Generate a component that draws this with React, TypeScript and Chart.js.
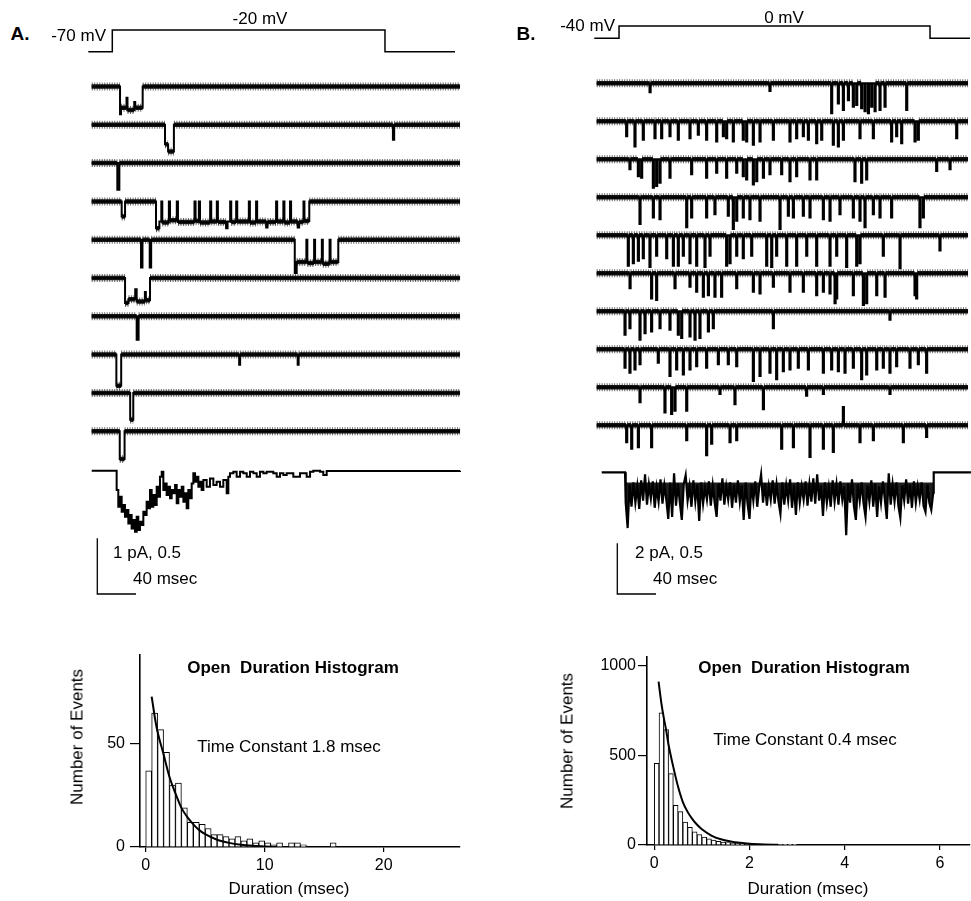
import React, { useEffect, useRef } from "react";
import { Chart, registerables } from "chart.js";

Chart.register(...registerables);

type Seg = [number, number, number]; // [open ms, close ms, amplitude pA]
type Spike = [number, number]; // [time ms, amplitude pA]

const FONT = "'Liberation Sans', Arial, Helvetica, sans-serif";

// ================= Panel A (-70 mV -> -20 mV) =================
const A_V_HOLD = -70;
const A_V_TEST = -20;
const A_PROTOCOL_MS = [-3.5, 21.3, 303.3, 375.7]; // start, pulse on, pulse off, end
const A_SWEEP_MS = 380.9;
const A_SCALE_PA = 1;
const A_SCALE_MS = 40;

const A_SWEEP_1: Seg[] = [[29.3, 30.3, 0.5], [30.3, 36, 0.38], [36, 37, 0.2], [37, 44, 0.42], [44, 45, 0.28], [45, 52.7, 0.38]];
const A_SWEEP_2: Seg[] = [[75.8, 79, 0.35], [79, 85, 0.48], [311.5, 312.8, 0.27]];
const A_SWEEP_3: Seg[] = [[26.5, 28.6, 0.48]];
const A_SWEEP_4: Seg[] = [
  [31, 34.5, 0.27], [66.5, 70, 0.48], [70, 72, 0.36], [73, 79.8, 0.38], [81, 88, 0.34], [89.2, 106.3, 0.37],
  [107.4, 110.8, 0.35], [112, 122.5, 0.38], [123.6, 129.4, 0.36], [130.5, 139, 0.37], [139, 140.5, 0.48],
  [140.5, 143.2, 0.36], [144.3, 149.4, 0.37], [150.5, 162.5, 0.36], [163.6, 170, 0.38], [171.1, 180.4, 0.36],
  [180.4, 181.8, 0.47], [181.8, 190.7, 0.37], [191.8, 198.2, 0.36], [199.3, 205.1, 0.38], [206.2, 213, 0.36],
  [213, 214.5, 0.47], [214.5, 219, 0.37], [220, 225, 0.35],
];
const A_SWEEP_5: Seg[] = [[51, 52.5, 0.5], [60, 61.5, 0.5], [210, 212, 0.6], [212, 222, 0.4], [223, 230, 0.42], [231, 238, 0.4], [239, 246, 0.43], [247, 255, 0.4]];
const A_SWEEP_6: Seg[] = [[34.5, 38, 0.45], [38, 45, 0.38], [45, 46.5, 0.2], [46.5, 55, 0.42], [55, 56, 0.25], [56, 60.3, 0.4]];
const A_SWEEP_7: Seg[] = [[46.5, 48.5, 0.42]];
const A_SWEEP_8: Seg[] = [[25.5, 30.5, 0.56], [152.5, 153.5, 0.18], [213, 214, 0.18]];
const A_SWEEP_9: Seg[] = [[39.8, 43, 0.48]];
const A_SWEEP_10: Seg[] = [[29, 34, 0.5]];
const A_SWEEPS = [A_SWEEP_1, A_SWEEP_2, A_SWEEP_3, A_SWEEP_4, A_SWEEP_5, A_SWEEP_6, A_SWEEP_7, A_SWEEP_8, A_SWEEP_9, A_SWEEP_10];

// ensemble average (open probability)
const A_ENSEMBLE_MS = [
  0, 24.1, 25.8, 27.5, 29.3, 31.0, 32.7, 34.4, 36.2, 37.9, 39.6, 41.3, 43.1, 44.8, 46.5, 48.2, 49.9, 51.7, 53.4, 55.1,
  56.8, 58.6, 60.3, 62.0, 63.7, 65.5, 67.2, 68.9, 70.6, 72.4, 74.1, 75.8, 77.5, 79.3, 81.0, 82.7, 84.4, 86.2, 87.9, 89.6,
  91.3, 93.1, 94.8, 96.5, 98.2, 99.9, 101.7, 103.4, 105.1, 106.8, 108.6, 110.3, 112.0, 113.7, 115.5, 118.9, 122.3, 125.8, 129.2, 132.7,
  136.1, 139.6, 141.3, 143.0, 146.5, 149.9, 153.4, 156.8, 160.3, 163.7, 167.2, 170.6, 174.0, 177.5, 180.9, 187.8, 191.3, 194.7, 198.2, 201.6,
  208.5, 215.4, 222.3, 225.8, 229.2, 236.1, 239.5, 243.0, 380.9,
];
const A_ENSEMBLE_PO = [
  0, 0, 0.174, 0.323, 0.233, 0.368, 0.308, 0.413, 0.353, 0.473, 0.398, 0.518, 0.443, 0.548, 0.413, 0.533, 0.458, 0.488, 0.368, 0.398,
  0.278, 0.338, 0.174, 0.323, 0.218, 0.308, 0.144, 0.233, 0.054, 0.009, 0.174, 0.114, 0.218, 0.144, 0.248, 0.174, 0.203, 0.129, 0.293, 0.174,
  0.233, 0.144, 0.278, 0.203, 0.338, 0.174, 0.248, 0.114, 0.024, 0.099, 0.054, 0.144, 0.099, 0.174, 0.084, 0.144, 0.069, 0.129, 0.099, 0.144,
  0.084, 0.203, 0.054, 0.024, 0.009, 0.054, 0.009, 0.024, 0.054, 0.009, 0.024, 0.054, 0.009, 0.024, 0.009, 0.024, 0.054, 0.024, 0.039, 0.024,
  0.054, 0.024, 0.054, 0.009, 0, 0.009, 0.039, 0.003, 0,
];

// ================= Panel B (-40 mV -> 0 mV) =================
const B_V_HOLD = -40;
const B_V_TEST = 0;
const B_PROTOCOL_MS = [-2.5, 23.1, 344.7, 386];
const B_SWEEP_MS = 384;
const B_OPENING_MS = 1.0;
const B_SCALE_PA = 2;
const B_SCALE_MS = 40;

const B_SWEEP_1: Spike[] = [[55.2, 0.35], [179.2, 0.3], [243.0, 1.18], [249.9, 0.79], [255.1, 1.05], [260.3, 0.66], [265.4, 0.92], [268.9, 0.85], [274.0, 0.98], [277.5, 1.1], [281.0, 1.18], [284.4, 0.92], [287.9, 1.1], [293.0, 1.05], [298.2, 0.92], [320.6, 1.05]];
const B_SWEEP_2: Spike[] = [[31.0, 0.59], [39.6, 0.99], [48.2, 0.72], [60.3, 0.66], [67.2, 0.66], [75.8, 0.59], [84.4, 0.72], [96.5, 0.66], [105.1, 0.53], [113.7, 0.72], [124.1, 0.79], [131.0, 0.59], [134.4, 0.66], [141.3, 0.79], [151.6, 0.72], [155.1, 0.79], [162.0, 0.92], [168.9, 0.79], [182.7, 0.72], [199.9, 0.79], [206.8, 0.66], [213.7, 0.59], [218.9, 0.72], [227.5, 0.86], [232.7, 0.72], [244.7, 0.92], [249.9, 0.99], [255.1, 0.72], [272.3, 0.66], [286.1, 0.66], [305.0, 0.79], [310.2, 0.59], [315.4, 0.86], [329.2, 0.79], [332.6, 0.72], [372.3, 0.66]];
const B_SWEEP_3: Spike[] = [[34.4, 0.39], [43.1, 0.66], [46.5, 0.72], [58.6, 1.12], [62.0, 1.05], [65.5, 0.92], [75.8, 0.72], [98.2, 0.59], [113.7, 0.72], [124.1, 0.53], [134.4, 0.72], [144.8, 0.53], [151.6, 0.66], [155.1, 0.79], [162.0, 0.99], [165.5, 0.86], [172.4, 0.72], [179.2, 0.59], [191.3, 0.59], [199.9, 0.86], [206.8, 0.66], [220.6, 0.79], [227.5, 0.79], [267.1, 0.86], [274.0, 0.92], [279.2, 0.79], [351.6, 0.46], [365.4, 0.39]];
const B_SWEEP_4: Spike[] = [[44.8, 1.05], [58.6, 0.79], [65.5, 0.86], [93.1, 1.18], [98.2, 0.79], [113.7, 0.79], [122.3, 0.66], [136.1, 0.72], [141.3, 1.25], [144.8, 0.92], [151.6, 0.79], [158.5, 0.86], [168.9, 0.92], [189.6, 1.25], [198.2, 0.72], [203.4, 0.79], [213.7, 0.72], [220.6, 0.79], [234.4, 0.86], [241.3, 0.92], [251.6, 0.66], [265.4, 0.79], [272.3, 0.92], [277.5, 1.18], [286.1, 0.66], [293.0, 0.79], [305.0, 0.79], [334.3, 1.18], [337.8, 0.79]];
const B_SWEEP_5: Spike[] = [[32.7, 1.2], [37.9, 1.1], [43.1, 1.0], [48.2, 0.9], [55.1, 1.25], [62.0, 0.8], [72.4, 0.9], [79.3, 1.2], [84.4, 1.2], [89.6, 0.8], [96.5, 1.1], [103.4, 1.2], [112.0, 1.25], [117.2, 0.8], [134.4, 1.2], [137.9, 1.1], [144.8, 0.8], [151.6, 0.9], [160.3, 0.8], [175.8, 1.2], [181.0, 1.25], [186.1, 0.8], [196.5, 1.2], [206.8, 1.2], [217.2, 0.8], [227.5, 1.2], [241.3, 1.2], [248.2, 0.8], [258.5, 1.25], [268.9, 1.2], [272.3, 1.1], [296.4, 0.8], [313.7, 1.3], [355.0, 0.6]];
const B_SWEEP_6: Spike[] = [[34.5, 0.59], [56.8, 0.99], [62.0, 1.05], [81.0, 0.59], [96.5, 0.53], [103.4, 0.72], [110.3, 0.92], [115.5, 0.86], [122.3, 0.92], [129.2, 0.92], [144.8, 0.59], [162.0, 0.72], [168.9, 0.79], [182.7, 0.53], [199.9, 0.72], [213.7, 0.72], [227.5, 0.86], [234.4, 0.72], [241.3, 0.79], [246.5, 1.18], [248.2, 0.99], [265.4, 0.86], [275.8, 1.25], [279.2, 1.18], [289.6, 0.86], [298.2, 0.92], [329.2, 0.86], [330.9, 0.99]];
const B_SWEEP_7: Spike[] = [[29.3, 0.92], [34.4, 0.66], [44.8, 1.12], [50.0, 0.86], [56.8, 0.79], [65.5, 0.66], [75.8, 0.72], [84.4, 0.92], [87.9, 1.05], [96.5, 0.99], [101.7, 1.12], [106.8, 1.05], [115.5, 0.79], [120.6, 0.66], [182.7, 0.66], [303.3, 0.33]];
const B_SWEEP_8: Spike[] = [[29.3, 0.72], [34.4, 0.92], [39.6, 0.79], [44.8, 0.59], [63.7, 0.53], [75.8, 1.05], [82.7, 0.79], [89.6, 0.99], [96.5, 0.79], [103.4, 0.66], [113.7, 0.72], [125.8, 0.59], [136.1, 0.59], [144.8, 0.66], [162.0, 1.25], [168.9, 1.05], [179.2, 0.92], [186.1, 1.18], [193.0, 0.86], [199.9, 0.79], [208.5, 0.72], [218.9, 0.79], [234.4, 0.92], [243.0, 0.79], [249.9, 0.86], [256.8, 0.92], [265.4, 0.72], [274.0, 1.18], [279.2, 0.99], [289.6, 0.79], [296.4, 0.72], [303.3, 0.92], [310.2, 0.66], [324.0, 0.72], [332.6, 0.59], [341.2, 0.92]];
const B_SWEEP_9: Spike[] = [[44.8, 0.59], [70.6, 0.99], [77.5, 1.05], [81.0, 0.92], [93.1, 0.92], [127.5, 0.26], [143.0, 0.66], [172.4, 0.86], [217.1, 0.33], [234.4, 0.26], [303.3, 0.26]];
const B_SWEEP_10: Spike[] = [[31.0, 0.66], [36.2, 0.92], [43.1, 0.86], [56.8, 0.86], [93.1, 0.59], [113.7, 1.18], [118.9, 0.72], [137.9, 0.66], [144.8, 0.59], [191.3, 0.92], [203.4, 0.86], [220.6, 1.25], [234.4, 0.92], [244.7, 1.05], [255.1, -0.72], [272.3, 0.66], [286.1, 0.59], [317.1, 0.66], [341.2, 0.46]];
const B_SWEEPS = [B_SWEEP_1, B_SWEEP_2, B_SWEEP_3, B_SWEEP_4, B_SWEEP_5, B_SWEEP_6, B_SWEEP_7, B_SWEEP_8, B_SWEEP_9, B_SWEEP_10];

// ensemble average, sampled every 2 ms from 30 ms
const B_ENSEMBLE_START_MS = 5.2;
const B_ENSEMBLE_ON_MS = 29.3;
const B_ENSEMBLE_OFF_MS = 348.5;
const B_ENSEMBLE_END_MS = 387;
const B_ENSEMBLE_T0_MS = 30;
const B_ENSEMBLE_DT_MS = 2;
const B_ENSEMBLE_CORE_PO = 0.1; // upper edge of the dense part of the averaged band
const B_ENSEMBLE_PO = [
  0.30, 0.55, 0.12, 0.34, 0.10, 0.30, 0.14, 0.36, 0.08, 0.28,
  0.02, 0.32, 0.12, 0.26, 0.09, 0.35, 0.15, 0.29, 0.07, 0.31,
  0.13, 0.27, 0.46, 0.10, 0.44, 0.01, 0.33, 0.11, 0.30, 0.47,
  0.12, 0.03, 0.28, 0.14, 0.34, 0.08, 0.29, 0.12, 0.48, 0.10,
  0.31, 0.15, 0.27, 0.09, 0.33, 0.13, 0.30, 0.44, 0.11, 0.28,
  0.06, 0.32, 0.14, 0.27, 0.10, 0.35, 0.12, 0.30, 0.08, 0.29,
  0.13, 0.47, 0.10, 0.31, 0.46, 0.12, 0.28, 0.09, 0.34, 0.15,
  0.02, 0.30, 0.11, 0.33, 0.14, 0.27, 0.08, 0.31, 0.12, 0.29,
  0.41, 0.10, 0.32, 0.13, 0.28, 0.07, 0.35, 0.12, 0.42, 0.10,
  0.30, 0.14, 0.27, 0.09, 0.33, 0.12, 0.29, 0.06, 0.31, 0.02,
  0.28, 0.13, 0.43, 0.10, 0.30, 0.15, 0.34, 0.08, 0.29, 0.12,
  0.32, 0.09, 0.27, 0.14, 0.62, 0.11, 0.30, 0.07, 0.33, 0.47,
  0.12, 0.28, 0.10, 0.31, 0.44, 0.13, 0.29, 0.08, 0.34, 0.11,
  0.44, 0.14, 0.30, 0.09, 0.27, 0.46, 0.01, 0.32, 0.12, 0.29,
  0.10, 0.33, 0.45, 0.13, 0.28, 0.07, 0.31, 0.12, 0.35, 0.09,
  0.30, 0.14, 0.27, 0.10, 0.33, 0.39, 0.12, 0.30, 0.37, 0.20,
];

// ================= Histograms =================
const HIST_A_BIN_MS = 0.5;
const HIST_A_COUNTS = [37, 65, 57, 46, 30, 31, 19, 12, 12, 11, 9, 6, 6, 5, 4, 5, 3, 4, 2, 3, 2, 1, 2, 0, 2, 2, 1, 0, 0, 0, 0, 2];
const FIT_A_MS = [0.5, 0.9, 1.5, 2, 2.5, 3, 3.5, 4, 4.5, 5, 6, 7, 8, 9, 10, 11];
const FIT_A_N = [73, 58.5, 45, 34, 26, 19, 14.5, 11, 8.2, 6.2, 3.5, 2, 1.1, 0.6, 0.3, 0.1];
const HIST_A_X_TICKS = [0, 10, 20];
const HIST_A_Y_TICKS = [0, 50];

const HIST_B_BIN_MS = 0.1;
const HIST_B_COUNTS = [456, 738, 644, 399, 222, 186, 128, 98, 74, 58, 44, 35, 27, 21, 16, 14, 11, 9, 7, 6, 5, 4, 3, 3, 2, 2, 2, 1, 1, 1];
const FIT_B_MS = [0.09, 0.15, 0.2, 0.25, 0.3, 0.4, 0.5, 0.6, 0.7, 0.8, 0.9, 1.0, 1.2, 1.4, 1.6, 1.8, 2.0, 2.3, 2.6];
const FIT_B_N = [912, 790, 710, 640, 560, 435, 325, 240, 185, 145, 113, 88, 53, 32, 20, 12, 7, 3, 1];
const HIST_B_X_TICKS = [0, 2, 4, 6];
const HIST_B_Y_TICKS = [0, 500, 1000];

// ================= helpers =================
type Pt = { x: number; y: number | null };

function sweepPoints(segs: Seg[], T: number, base: number): Pt[] {
  const pts: Pt[] = [{ x: 0, y: base }];
  let prevEnd = -Infinity;
  const sorted = [...segs].sort((a, b) => a[0] - b[0]);
  for (const [t0, t1, a] of sorted) {
    if (t0 > prevEnd + 1e-6) pts.push({ x: t0, y: base });
    else pts.pop();
    pts.push({ x: t0, y: base + a }, { x: t1, y: base + a }, { x: t1, y: base });
    prevEnd = t1;
  }
  pts.push({ x: T, y: base });
  return pts;
}

// stretches (closed or open) long enough to show the recording-noise band
function bandPoints(segs: Seg[], T: number, base: number): Pt[] {
  const pieces: Seg[] = [];
  let t = 0;
  const sorted = [...segs].sort((a, b) => a[0] - b[0]);
  for (const [t0, t1, a] of sorted) {
    if (t0 - t > 3) pieces.push([t, t0, 0]);
    if (t1 - t0 > 3) pieces.push([t0, t1, a]);
    t = t1;
  }
  if (T - t > 3) pieces.push([t, T, 0]);
  const pts: Pt[] = [];
  for (const [p0, p1, a] of pieces) pts.push({ x: p0, y: base + a }, { x: p1, y: base + a }, { x: p1, y: null });
  return pts;
}

function spikesToSegs(sp: Spike[], w: number): Seg[] {
  return sp.map(([t, a]) => [t - w / 2, t + w / 2, a] as Seg);
}

interface PanelCfg {
  left: number; width: number; height: number;
  x0Px: number; pxPerMs: number; pxPerPA: number; pxPerPo: number;
  sweepY0: number; sweepDy: number; ensPx: number;
  vHold: number; vTest: number; vHoldPx: number; pxPerMv: number; protocol: number[];
  sweeps: Seg[][]; sweepMs: number; coreWidth: number;
  ensemble: Pt[]; ensWidth: number; ensStepped: boolean;
  ensActive: Pt[] | null; ensCorePo: number;
  sbXPx: number; sbTopPx: number; sbPA: number; sbMs: number;
}

const lineBase = { pointRadius: 0, tension: 0, fill: false, spanGaps: false, borderCapStyle: "butt" as const };

function TracePanel({ c }: { c: PanelCfg }) {
  const ref = useRef<HTMLCanvasElement>(null);
  useEffect(() => {
    if (!ref.current) return;
    const H = c.height;
    const datasets: any[] = [];
    c.sweeps.forEach((segs, i) => {
      const base = (c.sweepY0 + i * c.sweepDy) / c.pxPerPA;
      const band = bandPoints(segs, c.sweepMs, base);
      datasets.push({ ...lineBase, data: band, borderColor: "rgba(0,0,0,0.6)", borderWidth: 8, borderDash: [1, 1.5], order: 4, yAxisID: "y" });
      datasets.push({ ...lineBase, data: band, borderColor: "#151515", borderWidth: 4.5, order: 3, yAxisID: "y" });
      datasets.push({ ...lineBase, data: sweepPoints(segs, c.sweepMs, base), borderColor: "#000", borderWidth: c.coreWidth, order: 2, yAxisID: "y" });
    });
    if (c.ensActive) {
      datasets.push({
        ...lineBase, data: c.ensActive, borderWidth: 0, borderColor: "rgba(0,0,0,0)", order: 2, yAxisID: "yPo",
        fill: { value: c.ensCorePo }, backgroundColor: "rgba(0,0,0,0.88)",
      });
    }
    datasets.push({ ...lineBase, data: c.ensemble, borderColor: "#000", borderWidth: c.ensWidth, stepped: c.ensStepped, order: 1, yAxisID: "yPo" });
    const [p0, pOn, pOff, pEnd] = c.protocol;
    datasets.push({
      ...lineBase, yAxisID: "yV", borderColor: "#000", borderWidth: 1.5, order: 1,
      data: [
        { x: p0, y: c.vHold }, { x: pOn, y: c.vHold }, { x: pOn, y: c.vTest },
        { x: pOff, y: c.vTest }, { x: pOff, y: c.vHold }, { x: pEnd, y: c.vHold },
      ],
    });
    const sbT = (c.sbXPx - c.x0Px) / c.pxPerMs;
    const sbTop = c.sbTopPx / c.pxPerPA;
    datasets.push({
      ...lineBase, yAxisID: "y", borderColor: "#000", borderWidth: 1.3, order: 1,
      data: [{ x: sbT, y: sbTop }, { x: sbT, y: sbTop + c.sbPA }, { x: sbT + c.sbMs, y: sbTop + c.sbPA }],
    });
    const chart = new Chart(ref.current, {
      type: "line",
      data: { datasets },
      options: {
        animation: false, responsive: false, events: [],
        layout: { padding: 0 },
        plugins: { legend: { display: false }, tooltip: { enabled: false } },
        scales: {
          x: { type: "linear", display: false, min: (c.left - c.x0Px) / c.pxPerMs, max: (c.left + c.width - c.x0Px) / c.pxPerMs },
          y: { type: "linear", display: false, reverse: true, min: 0, max: H / c.pxPerPA },
          yPo: { type: "linear", display: false, reverse: true, min: -c.ensPx / c.pxPerPo, max: (H - c.ensPx) / c.pxPerPo },
          yV: { type: "linear", display: false, min: c.vHold - (H - c.vHoldPx) / c.pxPerMv, max: c.vHold + c.vHoldPx / c.pxPerMv },
        },
      },
    });
    return () => chart.destroy();
  }, [c]);
  return <canvas ref={ref} width={c.width} height={c.height} style={{ position: "absolute", left: c.left, top: 0, width: c.width, height: c.height }} />;
}

interface HistCfg {
  left: number; top: number; width: number; height: number;
  yAxisW: number; xAxisH: number; padTop: number; padRight: number;
  counts: number[]; bin: number; fitT: number[]; fitN: number[];
  xMin: number; xMax: number; yMax: number; xTicks: number[]; yTicks: number[];
  yTickLen: number; yTickPad: number; xTickLen: number; xTickPad: number;
}

function Histogram({ h }: { h: HistCfg }) {
  const ref = useRef<HTMLCanvasElement>(null);
  useEffect(() => {
    if (!ref.current) return;
    const tickFont = { family: FONT, size: 16 };
    const chart = new Chart(ref.current, {
      type: "bar",
      data: {
        datasets: [
          {
            type: "line", data: h.fitT.map((t, i) => ({ x: t, y: h.fitN[i] })),
            borderColor: "#000", borderWidth: 2, pointRadius: 0, cubicInterpolationMode: "monotone", fill: false, order: 0,
          } as any,
          {
            type: "bar", data: h.counts.map((v, i) => ({ x: (i + 0.5) * h.bin, y: v })),
            backgroundColor: "#fff", borderColor: "#000", borderWidth: 1, barPercentage: 1, categoryPercentage: 1, order: 1,
          } as any,
        ],
      },
      options: {
        animation: false, responsive: false, events: [],
        layout: { padding: { left: 0, top: h.padTop, right: h.padRight, bottom: 0 } },
        plugins: { legend: { display: false }, tooltip: { enabled: false } },
        scales: {
          x: {
            type: "linear", min: h.xMin, max: h.xMax, offset: false,
            grid: { drawOnChartArea: false, drawTicks: true, tickLength: h.xTickLen, color: "#000", lineWidth: 1.2, offset: false },
            border: { display: true, color: "#000", width: 1.6 },
            ticks: { color: "#000", font: tickFont, padding: h.xTickPad, maxRotation: 0, autoSkip: false, callback: (v: any) => String(v) },
            afterBuildTicks: (s: any) => { s.ticks = h.xTicks.map((v) => ({ value: v })); },
            afterFit: (s: any) => { s.height = h.xAxisH; },
          },
          y: {
            type: "linear", min: 0, max: h.yMax,
            grid: { drawOnChartArea: false, drawTicks: true, tickLength: h.yTickLen, color: "#000", lineWidth: 1.2 },
            border: { display: true, color: "#000", width: 1.6 },
            ticks: { color: "#000", font: tickFont, padding: h.yTickPad, autoSkip: false, callback: (v: any) => String(v) },
            afterBuildTicks: (s: any) => { s.ticks = h.yTicks.map((v) => ({ value: v })); },
            afterFit: (s: any) => { s.width = h.yAxisW; },
          },
        },
      },
    });
    return () => chart.destroy();
  }, [h]);
  return <canvas ref={ref} width={h.width} height={h.height} style={{ position: "absolute", left: h.left, top: h.top, width: h.width, height: h.height }} />;
}

function Label({ x, y, text, anchor = "middle", bold = false, size = 17, rotate = 0 }: {
  x: number; y: number; text: string; anchor?: "start" | "middle" | "end"; bold?: boolean; size?: number; rotate?: number;
}) {
  const tx = anchor === "start" ? "0%" : anchor === "end" ? "-100%" : "-50%";
  return (
    <div style={{
      position: "absolute", left: x, top: y, transform: `translate(${tx},-50%) rotate(${rotate}deg)`,
      fontFamily: FONT, fontSize: size, fontWeight: bold ? 700 : 400, lineHeight: 1, whiteSpace: "pre", color: "#000",
    }}>{text}</div>
  );
}

// ================= layout =================
const PANEL_A: PanelCfg = {
  left: 80, width: 400, height: 610,
  x0Px: 91.7, pxPerMs: 0.967, pxPerPA: 55.7, pxPerPo: 111.4,
  sweepY0: 86.5, sweepDy: 38.3, ensPx: 470.7,
  vHold: A_V_HOLD, vTest: A_V_TEST, vHoldPx: 51.7, pxPerMv: 0.434, protocol: A_PROTOCOL_MS,
  sweeps: A_SWEEPS, sweepMs: A_SWEEP_MS, coreWidth: 2,
  ensemble: A_ENSEMBLE_MS.map((t, i) => ({ x: t, y: A_ENSEMBLE_PO[i] })), ensWidth: 2, ensStepped: true,
  ensActive: null, ensCorePo: 0,
  sbXPx: 97.3, sbTopPx: 538.3, sbPA: A_SCALE_PA, sbMs: A_SCALE_MS,
};

const B_ENSEMBLE_ACTIVE: Pt[] = B_ENSEMBLE_PO.map((v, i) => ({ x: B_ENSEMBLE_T0_MS + i * B_ENSEMBLE_DT_MS, y: v }));

const PANEL_B: PanelCfg = {
  left: 590, width: 381, height: 610,
  x0Px: 596.7, pxPerMs: 0.967, pxPerPA: 25.35, pxPerPo: 101.4,
  sweepY0: 83.3, sweepDy: 38, ensPx: 472.3,
  vHold: B_V_HOLD, vTest: B_V_TEST, vHoldPx: 38.3, pxPerMv: 0.3075, protocol: B_PROTOCOL_MS,
  sweeps: B_SWEEPS.map((s) => spikesToSegs(s, B_OPENING_MS)), sweepMs: B_SWEEP_MS, coreWidth: 2.2,
  ensemble: [
    { x: B_ENSEMBLE_START_MS, y: 0 }, { x: B_ENSEMBLE_ON_MS, y: 0 },
    ...B_ENSEMBLE_ACTIVE,
    { x: B_ENSEMBLE_OFF_MS, y: 0 }, { x: B_ENSEMBLE_END_MS, y: 0 },
  ],
  ensWidth: 2.2, ensStepped: false,
  ensActive: B_ENSEMBLE_ACTIVE, ensCorePo: B_ENSEMBLE_CORE_PO,
  sbXPx: 617.3, sbTopPx: 543.3, sbPA: B_SCALE_PA, sbMs: B_SCALE_MS,
};

const HIST_A: HistCfg = {
  left: 40, top: 640, width: 440, height: 261, yAxisW: 100, xAxisH: 54, padTop: 15, padRight: 20,
  counts: HIST_A_COUNTS, bin: HIST_A_BIN_MS, fitT: FIT_A_MS, fitN: FIT_A_N,
  xMin: -0.48, xMax: 26.41, yMax: 93.2, xTicks: HIST_A_X_TICKS, yTicks: HIST_A_Y_TICKS,
  yTickLen: 10, yTickPad: 5, xTickLen: 5, xTickPad: 4,
};

const HIST_B: HistCfg = {
  left: 550, top: 640, width: 421, height: 261, yAxisW: 97, xAxisH: 56, padTop: 17, padRight: 1,
  counts: HIST_B_COUNTS, bin: HIST_B_BIN_MS, fitT: FIT_B_MS, fitN: FIT_B_N,
  xMin: -0.153, xMax: 6.632, yMax: 1050, xTicks: HIST_B_X_TICKS, yTicks: HIST_B_Y_TICKS,
  yTickLen: 9, yTickPad: 2, xTickLen: 5, xTickPad: 4,
};

export default function App() {
  return (
    <div style={{ position: "absolute", left: 0, top: 0, width: 971, height: 901, background: "#fff", overflow: "hidden" }}>
      <TracePanel c={PANEL_A} />
      <TracePanel c={PANEL_B} />
      <Histogram h={HIST_A} />
      <Histogram h={HIST_B} />

      <Label x={20} y={33} text="A." bold size={19} />
      <Label x={106} y={35} text="-70 mV" anchor="end" />
      <Label x={260} y={18} text="-20 mV" />
      <Label x={113} y={552} text="1 pA, 0.5" anchor="start" />
      <Label x={133} y={578} text="40 msec" anchor="start" />

      <Label x={526} y={33} text="B." bold size={19} />
      <Label x={615} y={25} text="-40 mV" anchor="end" />
      <Label x={784} y={17} text="0 mV" />
      <Label x={635} y={552} text="2 pA, 0.5" anchor="start" />
      <Label x={653} y={578} text="40 msec" anchor="start" />

      <Label x={293} y={667} text="Open  Duration Histogram" bold />
      <Label x={289} y={746} text="Time Constant 1.8 msec" />
      <Label x={77} y={737} text="Number of Events" rotate={-90} />
      <Label x={289} y={888} text="Duration (msec)" />

      <Label x={804} y={667} text="Open  Duration Histogram" bold />
      <Label x={805} y={739} text="Time Constant 0.4 msec" />
      <Label x={567} y={741} text="Number of Events" rotate={-90} />
      <Label x={808} y={888} text="Duration (msec)" />
    </div>
  );
}
